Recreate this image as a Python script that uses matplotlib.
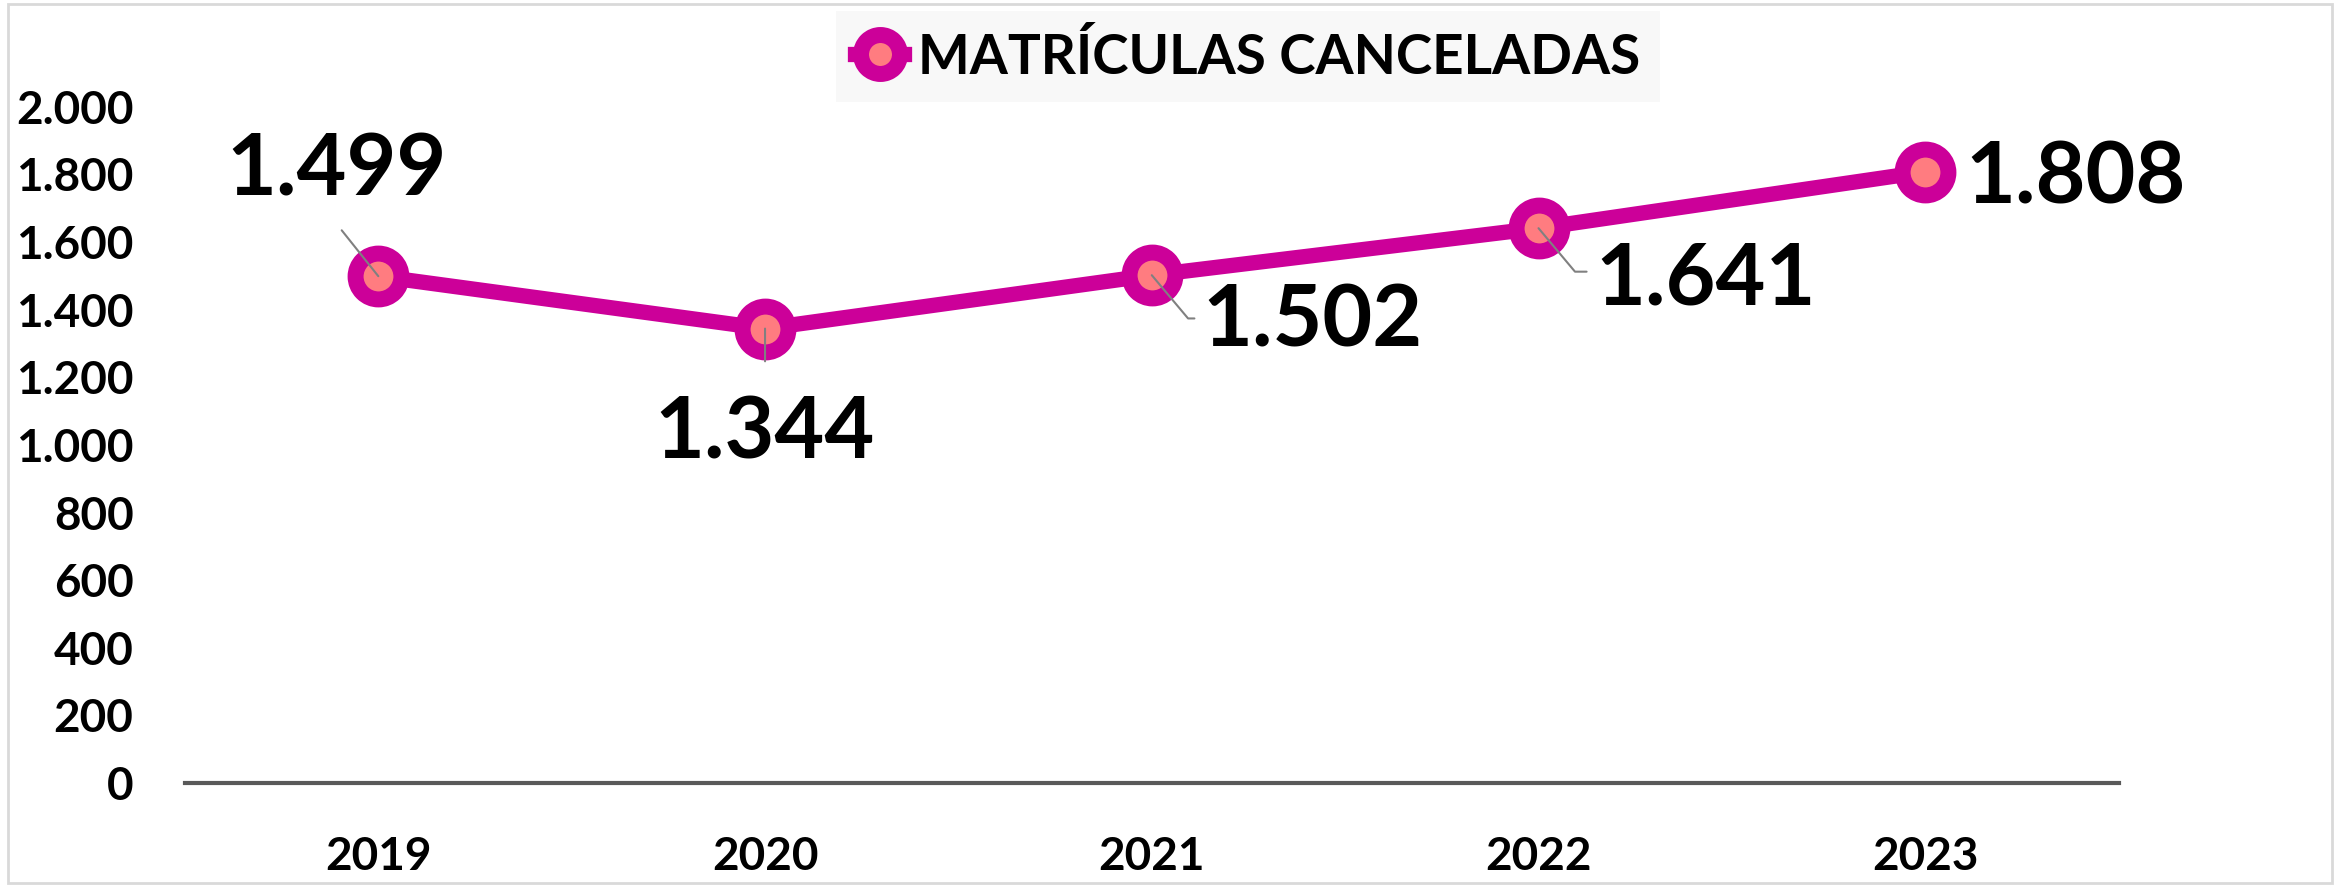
import matplotlib.pyplot as plt
from matplotlib.patches import Rectangle

years = ["2019", "2020", "2021", "2022", "2023"]
cancelled = [1499, 1344, 1502, 1641, 1808]
value_labels = ["1.499", "1.344", "1.502", "1.641", "1.808"]
y_ticks = [0, 200, 400, 600, 800, 1000, 1200, 1400, 1600, 1800, 2000]
y_tick_labels = ["0", "200", "400", "600", "800", "1.000", "1.200", "1.400",
                 "1.600", "1.800", "2.000"]

line_color = "#CC0099"
face_color = "#FF7C80"

plt.rcParams["font.family"] = ["Lato", "DejaVu Sans"]
plt.rcParams["font.weight"] = "bold"

fig = plt.figure(figsize=(23.41, 8.85), dpi=100)
fig.patches.append(Rectangle((0.0035, 0.002), 0.9925, 0.994, transform=fig.transFigure,
                             fill=False, edgecolor="#d9d9d9", linewidth=2))

ax = fig.add_axes([0.079, 0.1153, 0.826, 0.764])
x = [i + 0.5 for i in range(len(years))]
ax.plot(x, cancelled, color=line_color, linewidth=11, marker="o", markersize=33,
        markeredgewidth=11.5, markeredgecolor=line_color, markerfacecolor=face_color,
        label="MATRÍCULAS CANCELADAS", clip_on=False, zorder=3)

# data labels with leader lines (offsets in points)
lead = dict(arrowstyle="-", color="#808080", lw=1.5, shrinkB=0)
ax.annotate(value_labels[0], (x[0], cancelled[0]), xytext=(-30, 76), textcoords="offset points",
            ha="center", va="center", fontsize=62, fontweight="bold", zorder=4,
            arrowprops=dict(lead, relpos=(0.45, 0.0), shrinkA=16))
ax.annotate(value_labels[1], (x[1], cancelled[1]), xytext=(0, -76), textcoords="offset points",
            ha="center", va="center", fontsize=62, fontweight="bold", zorder=4,
            arrowprops=dict(lead, relpos=(0.5, 1.0), shrinkA=22))
ax.annotate(value_labels[2], (x[2], cancelled[2]), xytext=(116, -34), textcoords="offset points",
            ha="center", va="center", fontsize=62, fontweight="bold", zorder=4,
            arrowprops=dict(lead, relpos=(0.0, 0.55), shrinkA=4,
                            connectionstyle="angle,angleA=0,angleB=130,rad=0"))
ax.annotate(value_labels[3], (x[3], cancelled[3]), xytext=(120, -37), textcoords="offset points",
            ha="center", va="center", fontsize=62, fontweight="bold", zorder=4,
            arrowprops=dict(lead, relpos=(0.0, 0.6), shrinkA=4,
                            connectionstyle="angle,angleA=0,angleB=130,rad=0"))
ax.annotate(value_labels[4], (x[4], cancelled[4]), xytext=(108, -5), textcoords="offset points",
            ha="center", va="center", fontsize=62, fontweight="bold", zorder=4)

ax.set_xlim(0, 5)
ax.set_ylim(0, 2000)
ax.set_xticks(x)
ax.set_xticklabels(years, fontsize=33, fontweight="bold")
ax.set_yticks(y_ticks)
ax.set_yticklabels(y_tick_labels, fontsize=33, fontweight="bold")
ax.tick_params(axis="both", length=0)
ax.tick_params(axis="x", pad=38)
ax.tick_params(axis="y", pad=37)
for s in ["top", "right", "left"]:
    ax.spines[s].set_visible(False)
ax.spines["bottom"].set_color("#595959")
ax.spines["bottom"].set_linewidth(3)

leg = ax.legend(loc="center", bbox_to_anchor=(0.533, 0.936), bbox_transform=fig.transFigure,
                fontsize=39.5, frameon=True, fancybox=False, handlelength=0.9,
                handletextpad=0.25, borderpad=0.35, borderaxespad=0, markerscale=0.85)
leg.get_frame().set_facecolor("#f7f7f7")
leg.get_frame().set_edgecolor("none")
for t in leg.get_texts():
    t.set_fontweight("bold")

fig.savefig("out.png", dpi=100)
